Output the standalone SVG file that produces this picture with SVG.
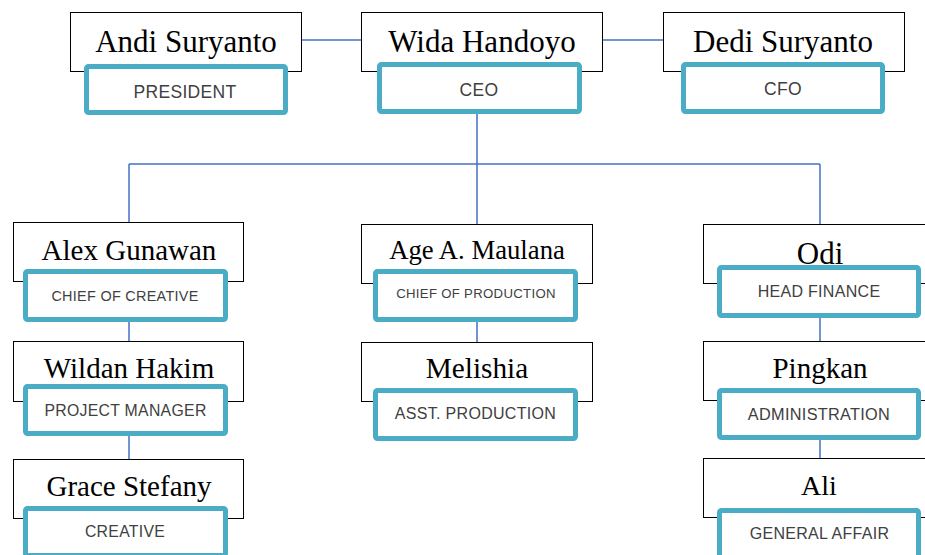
<svg xmlns="http://www.w3.org/2000/svg" width="925" height="555" viewBox="0 0 925 555">
<style>
.box{fill:#fff;stroke:#000;stroke-width:1}
.lab{fill:#fff;stroke:#4BACC6;stroke-width:5}
.name{font-family:"Liberation Serif","Times New Roman",serif;fill:#000;text-anchor:middle}
.role{font-family:"Liberation Sans",Arial,sans-serif;fill:#404040;text-anchor:middle;letter-spacing:0.3px}
.con{stroke:#4472C4;stroke-width:1.5;fill:none}
</style>
<rect width="925" height="555" fill="#fff"/>
<g id="connectors">
<line class="con" x1="302" y1="40" x2="361" y2="40"/>
<line class="con" x1="603" y1="40" x2="663" y2="40"/>
<path class="con" d="M477 114 V164 M129 164 H820 M129 164 V222 M477 164 V224 M820 164 V224"/>
<path class="con" d="M129 322 V341 M129 436 V459 M477 322 V342 M820 318 V341 M820 440 V458"/>
</g>
<g id="andi">
<rect class="box" x="70.5" y="12.5" width="231" height="59"/>
<text class="name" x="186" y="52" font-size="31">Andi Suryanto</text>
<rect class="lab" x="86.5" y="66.5" width="199" height="46" rx="2"/>
<text class="role" x="185" y="98" font-size="17.5">PRESIDENT</text>
</g>
<g id="wida">
<rect class="box" x="361.5" y="12.5" width="241" height="59"/>
<text class="name" x="482" y="52" font-size="31">Wida Handoyo</text>
<rect class="lab" x="379.5" y="64.5" width="200" height="47" rx="2"/>
<text class="role" x="479" y="96" font-size="17.5">CEO</text>
</g>
<g id="dedi">
<rect class="box" x="663.5" y="12.5" width="241" height="59"/>
<text class="name" x="783" y="52" font-size="31">Dedi Suryanto</text>
<rect class="lab" x="683.5" y="64.5" width="199" height="47" rx="2"/>
<text class="role" x="783" y="95" font-size="17.5">CFO</text>
</g>
<g id="alex">
<rect class="box" x="13.5" y="222.5" width="230" height="59"/>
<text class="name" x="129" y="260" font-size="29">Alex Gunawan</text>
<rect class="lab" x="25.5" y="271.5" width="200" height="48" rx="2"/>
<text class="role" x="125" y="301" font-size="14.4">CHIEF OF CREATIVE</text>
</g>
<g id="age">
<rect class="box" x="361.5" y="224.5" width="231" height="59"/>
<text class="name" x="477" y="259" font-size="26.7">Age A. Maulana</text>
<rect class="lab" x="375.5" y="271.5" width="200" height="48" rx="2"/>
<text class="role" x="476" y="298" font-size="13.2">CHIEF OF PRODUCTION</text>
</g>
<g id="odi">
<rect class="box" x="703.5" y="224.5" width="240" height="59"/>
<text class="name" x="820" y="264" font-size="31">Odi</text>
<rect class="lab" x="719.5" y="267.5" width="199" height="48" rx="2"/>
<text class="role" x="819" y="297" font-size="16">HEAD FINANCE</text>
</g>
<g id="wildan">
<rect class="box" x="13.5" y="341.5" width="230" height="60"/>
<text class="name" x="129" y="378" font-size="29">Wildan Hakim</text>
<rect class="lab" x="25.5" y="386.5" width="200" height="47" rx="2"/>
<text class="role" x="125.5" y="416" font-size="15.8">PROJECT MANAGER</text>
</g>
<g id="grace">
<rect class="box" x="13.5" y="459.5" width="230" height="59"/>
<text class="name" x="129" y="496" font-size="29">Grace Stefany</text>
<rect class="lab" x="25.5" y="508.5" width="200" height="47" rx="2"/>
<text class="role" x="125" y="537" font-size="15.8">CREATIVE</text>
</g>
<g id="melishia">
<rect class="box" x="361.5" y="342.5" width="231" height="59"/>
<text class="name" x="477" y="378" font-size="29.3">Melishia</text>
<rect class="lab" x="375.5" y="390.5" width="200" height="48" rx="2"/>
<text class="role" x="475.5" y="419" font-size="16">ASST. PRODUCTION</text>
</g>
<g id="pingkan">
<rect class="box" x="703.5" y="341.5" width="240" height="59"/>
<text class="name" x="820" y="378" font-size="29">Pingkan</text>
<rect class="lab" x="719.5" y="390.5" width="199" height="47" rx="2"/>
<text class="role" x="819" y="420" font-size="16.3">ADMINISTRATION</text>
</g>
<g id="ali">
<rect class="box" x="703.5" y="458.5" width="240" height="59"/>
<text class="name" x="819" y="495" font-size="28">Ali</text>
<rect class="lab" x="719.5" y="510.5" width="199" height="47" rx="2"/>
<text class="role" x="819.5" y="539" font-size="16">GENERAL AFFAIR</text>
</g>
</svg>
